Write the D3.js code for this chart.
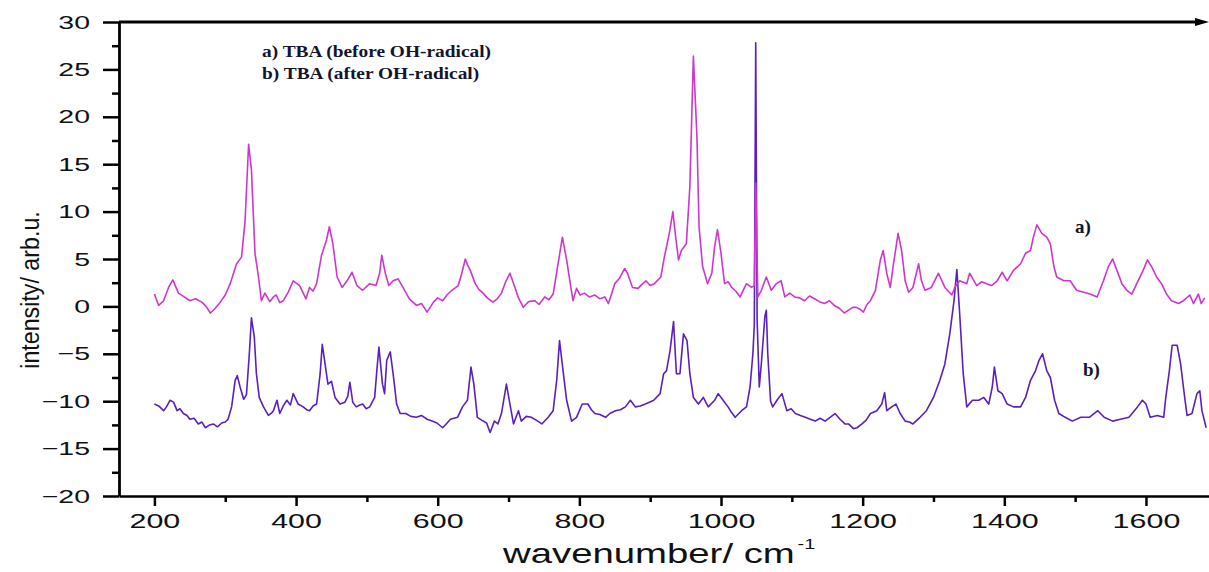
<!DOCTYPE html>
<html>
<head>
<meta charset="utf-8">
<script src="https://cdn.jsdelivr.net/npm/d3@7"></script>
<style>
  body { margin: 0; background: #fff; }
  text { font-family: "Liberation Sans", Arial, sans-serif; }
  text.serif { font-family: "Liberation Serif", "Times New Roman", serif; font-weight: bold; }
</style>
</head>
<body>
<svg id="chart" width="1209" height="572"></svg>
<script>
// spectrum a) TBA before OH-radical : [wavenumber, intensity]
const specA = [
  [200,1.3],[206,0.1],[213,0.6],[220,2.0],[226,2.8],[234,1.4],[242,1.0],[250,0.6],[258,0.8],[267,0.45],
  [273,0.0],[279,-0.7],[286,-0.2],[293,0.45],[300,1.2],[307,2.4],[316,4.5],[323,5.2],[328,9],[333,17.1],
  [337,14.4],[342,5.6],[347,3.1],[351,0.6],[356,1.4],[363,0.5],[368,1.0],[372,1.2],[377,0.4],[382,0.6],
  [389,1.5],[396,2.7],[405,2.2],[414,0.8],[419,2.0],[424,1.6],[429,2.4],[436,5.4],[443,7.0],[447,8.4],
  [452,6.6],[458,3.1],[465,2.0],[472,2.7],[479,3.6],[486,2.2],[494,1.7],[504,2.4],[513,2.2],[518,3.5],
  [521,5.4],[526,3.5],[531,2.2],[537,2.7],[544,2.9],[551,2.0],[560,0.8],[570,0.1],[577,0.3],[585,-0.6],
  [594,0.45],[600,0.9],[607,0.6],[613,1.2],[620,1.7],[629,2.2],[634,3.5],[639,5.0],[642,4.4],[646,3.8],
  [653,2.4],[658,1.8],[664,1.4],[670,0.9],[678,0.45],[684,0.8],[690,1.4],[696,2.6],[702,3.5],[709,2.0],
  [714,0.9],[721,-0.1],[728,0.5],[737,0.6],[743,0.2],[751,1.0],[757,0.7],[763,1.3],[770,4.5],[776,7.3],
  [782,4.9],[788,2.0],[791,0.6],[796,1.9],[801,1.2],[807,1.4],[814,1.0],[822,1.2],[829,0.8],[836,1.0],
  [841,0.3],[845,1.2],[850,2.4],[857,3.0],[864,4.0],[868,3.5],[875,2.0],[883,1.9],[888,2.3],[894,2.7],
  [900,2.2],[906,2.4],[915,3.1],[920,5.2],[927,7.7],[932,10.0],[936,7.3],[940,4.9],[944,5.9],[951,6.6],
  [956,12.6],[961,26.4],[966,17.9],[969,8.4],[974,4.2],[981,2.4],[987,3.5],[991,6.3],[995,8.1],[1000,5.6],
  [1005,2.4],[1010,2.6],[1015,2.0],[1021,1.6],[1027,1.0],[1032,1.8],[1036,2.4],[1043,2.0],[1047,2.2],[1049,13],
  [1052,1.0],[1057,1.7],[1064,3.1],[1071,1.7],[1078,2.4],[1085,2.7],[1090,1.0],[1097,1.4],[1104,1.0],[1111,0.9],
  [1118,0.6],[1125,1.1],[1132,0.8],[1139,0.5],[1146,0.3],[1153,0.6],[1160,0.1],[1167,-0.2],[1174,-0.7],[1180,-0.4],
  [1186,-0.1],[1191,-0.1],[1196,-0.3],[1201,-0.6],[1206,0.2],[1211,0.6],[1218,1.7],[1225,4.9],[1229,5.9],[1234,3.5],
  [1239,2.0],[1243,4.2],[1250,7.7],[1255,5.9],[1260,2.7],[1265,1.5],[1271,2.0],[1279,4.5],[1283,2.7],[1288,1.7],
  [1297,2.0],[1307,3.5],[1316,2.0],[1326,1.2],[1330,2.0],[1337,2.7],[1347,2.4],[1351,3.5],[1361,2.2],[1368,2.6],
  [1375,2.4],[1382,2.2],[1390,2.7],[1397,3.6],[1404,2.7],[1413,3.8],[1423,4.5],[1430,5.6],[1437,5.9],[1441,7.3],
  [1446,8.6],[1453,7.7],[1460,7.3],[1465,6.6],[1470,4.2],[1474,3.1],[1484,2.7],[1493,2.7],[1502,1.7],[1512,1.5],
  [1521,1.3],[1531,1.0],[1540,2.7],[1547,4.2],[1553,5.0],[1559,3.8],[1566,2.4],[1573,1.7],[1580,1.3],[1587,2.4],
  [1596,3.8],[1602,4.9],[1608,4.2],[1615,3.1],[1622,2.4],[1629,1.3],[1636,0.6],[1646,0.3],[1653,0.6],[1662,1.2],
  [1667,0.3],[1674,1.3],[1678,0.3],[1683,0.9]
];

// spectrum b) TBA after OH-radical
const specB = [
  [200,-10.3],[206,-10.5],[213,-11.0],[217,-10.6],[222,-9.9],[227,-10.1],[232,-11.0],[236,-10.8],[241,-11.3],[246,-11.5],
  [250,-11.9],[256,-11.8],[262,-12.4],[267,-12.2],[272,-12.8],[278,-12.5],[283,-12.4],[289,-12.7],[295,-12.3],[300,-12.2],
  [304,-11.9],[309,-10.6],[314,-7.8],[317,-7.3],[321,-8.5],[326,-9.8],[330,-9.3],[334,-5.0],[337,-1.2],[341,-3.2],
  [344,-7.1],[348,-9.6],[354,-10.6],[361,-11.5],[366,-11.2],[368,-11.0],[373,-9.9],[377,-11.3],[382,-10.5],[387,-9.9],
  [392,-10.4],[396,-9.2],[403,-10.3],[410,-10.6],[415,-10.9],[419,-11.0],[424,-10.5],[429,-10.3],[434,-7.1],[437,-4.0],
  [441,-6.1],[445,-8.2],[450,-7.9],[455,-9.6],[462,-10.3],[469,-10.1],[473,-9.5],[476,-8.0],[480,-10.1],[485,-10.6],
  [490,-10.4],[494,-10.3],[499,-10.8],[504,-10.6],[511,-9.6],[514,-6.8],[517,-4.3],[522,-8.2],[525,-9.2],[528,-5.7],
  [533,-4.8],[537,-7.1],[542,-10.3],[547,-11.3],[555,-11.3],[562,-11.6],[570,-11.7],[577,-11.5],[585,-11.9],[592,-12.1],
  [599,-12.3],[607,-12.8],[612,-12.4],[618,-11.9],[628,-11.7],[635,-10.6],[642,-9.9],[647,-6.4],[651,-8.2],[656,-11.7],
  [662,-12.0],[669,-12.3],[674,-13.3],[680,-12.1],[685,-12.4],[690,-11.3],[697,-8.2],[702,-10.3],[707,-12.4],[714,-11.0],
  [718,-12.1],[725,-11.6],[732,-11.7],[739,-12.0],[747,-12.4],[756,-11.7],[763,-11.0],[768,-7.8],[772,-3.6],[777,-6.8],
  [782,-9.9],[789,-12.1],[796,-11.7],[804,-10.3],[812,-10.3],[817,-10.9],[822,-11.3],[829,-11.4],[837,-11.7],[843,-11.3],
  [851,-11.0],[858,-10.9],[865,-10.6],[872,-9.9],[879,-10.6],[886,-10.5],[893,-10.3],[899,-10.1],[905,-9.9],[914,-9.2],
  [919,-7.1],[923,-6.8],[928,-4.7],[933,-1.6],[937,-7.1],[942,-7.1],[947,-2.9],[952,-3.6],[956,-7.1],[961,-9.6],
  [968,-10.3],[975,-9.6],[982,-10.6],[991,-9.9],[996,-9.2],[1003,-9.9],[1010,-10.6],[1015,-11.2],[1020,-11.7],[1029,-11.0],
  [1036,-10.6],[1041,-8.5],[1045,-5.0],[1047,-2.0],[1049,27.8],[1051,-1.5],[1054,-8.5],[1057,-6.0],[1062,-1.0],[1064,-0.4],
  [1066,-5.0],[1070,-10.0],[1073,-10.6],[1079,-9.9],[1086,-9.2],[1093,-11.0],[1099,-10.8],[1105,-11.3],[1112,-11.5],[1119,-11.7],
  [1126,-11.9],[1133,-12.1],[1140,-11.8],[1147,-12.1],[1154,-11.7],[1161,-11.3],[1168,-11.9],[1175,-12.4],[1180,-12.4],[1187,-12.9],
  [1192,-12.8],[1199,-12.4],[1205,-12.0],[1211,-11.3],[1220,-11.0],[1227,-10.3],[1231,-9.1],[1234,-11.0],[1241,-10.6],[1247,-10.3],
  [1253,-11.3],[1260,-12.1],[1266,-12.2],[1271,-12.4],[1281,-11.7],[1290,-11.0],[1300,-9.6],[1309,-7.8],[1316,-6.1],[1323,-2.9],
  [1329,0.6],[1333,3.9],[1337,-0.8],[1342,-7.1],[1347,-10.6],[1355,-9.9],[1364,-9.9],[1371,-9.6],[1378,-10.3],[1383,-8.5],
  [1386,-6.4],[1391,-8.9],[1397,-9.2],[1404,-10.3],[1413,-10.6],[1423,-10.6],[1430,-9.6],[1437,-7.8],[1444,-6.8],[1449,-5.7],
  [1454,-5.0],[1460,-6.8],[1465,-7.5],[1471,-9.9],[1477,-11.3],[1486,-11.7],[1496,-12.1],[1508,-11.7],[1520,-11.7],[1532,-11.0],
  [1541,-11.7],[1553,-12.1],[1564,-11.9],[1576,-11.7],[1588,-10.6],[1595,-9.9],[1600,-10.3],[1606,-11.7],[1616,-11.5],[1625,-11.7],
  [1628,-9.6],[1633,-6.8],[1637,-4.1],[1644,-4.1],[1649,-6.1],[1654,-9.2],[1658,-11.5],[1665,-11.3],[1672,-9.2],[1676,-8.9],
  [1679,-11.0],[1685,-12.8]
];

const xMajor = [200, 400, 600, 800, 1000, 1200, 1400, 1600];
const xMinor = [300, 500, 700, 900, 1100, 1300, 1500];
const yMajor = [-20, -15, -10, -5, 0, 5, 10, 15, 20, 25, 30];
const yMinor = [-17.5, -12.5, -7.5, -2.5, 2.5, 7.5, 12.5, 17.5, 22.5, 27.5];
const legendLines = ["a) TBA (before OH-radical)", "b) TBA (after OH-radical)"];

const svg = d3.select("#chart");
const plotL = 119, plotR = 1209, plotT = 22, plotB = 496;

const x = d3.scaleLinear().domain([150, 1689]).range([plotL, plotR]);
const y = d3.scaleLinear().domain([-20, 30]).range([plotB, plotT]);

// spectra (b under a)
const line = d3.line().x(d => x(d[0])).y(d => y(d[1]));
svg.append("path").datum(specB)
  .attr("fill", "none").attr("stroke", "#5a1fc0").attr("stroke-width", 1.6)
  .attr("stroke-linejoin", "round").attr("d", line);
svg.append("path").datum(specA)
  .attr("fill", "none").attr("stroke", "#d035d0").attr("stroke-width", 1.6)
  .attr("stroke-linejoin", "round").attr("d", line);

// minor ticks
svg.append("g").attr("transform", `translate(0,${plotB})`)
  .call(d3.axisBottom(x).tickValues(xMinor).tickSize(6).tickFormat(""))
  .call(g => g.select(".domain").remove())
  .selectAll("line").attr("stroke", "#000").attr("stroke-width", 2.5);
svg.append("g").attr("transform", `translate(${plotL},0)`)
  .call(d3.axisLeft(y).tickValues(yMinor).tickSize(7).tickFormat(""))
  .call(g => g.select(".domain").remove())
  .selectAll("line").attr("stroke", "#000").attr("stroke-width", 2.5);

// x axis
const gx = svg.append("g").attr("transform", `translate(0,${plotB})`)
  .call(d3.axisBottom(x).tickValues(xMajor).tickFormat(d3.format("d"))
    .tickSize(10).tickPadding(7).tickSizeOuter(0));
gx.select(".domain").attr("stroke-width", 2.5);
gx.selectAll("line").attr("stroke-width", 2.5);
gx.selectAll("text")
  .attr("font-size", 21).attr("fill", "#111")
  .attr("transform", "scale(1.45,1)");

// y axis
const gy = svg.append("g").attr("transform", `translate(${plotL},0)`)
  .call(d3.axisLeft(y).tickValues(yMajor).tickSize(16).tickPadding(13).tickSizeOuter(0));
gy.select(".domain").attr("stroke-width", 2.8);
gy.selectAll("line").attr("stroke-width", 2.5);
gy.selectAll("text")
  .attr("font-size", 19).attr("fill", "#111")
  .attr("x", 0)
  .attr("transform", "translate(-29,0) scale(1.5,1)");

// top frame line with arrow
svg.append("line")
  .attr("x1", plotL).attr("x2", plotR - 10).attr("y1", plotT).attr("y2", plotT)
  .attr("stroke", "#000").attr("stroke-width", 2.8);
svg.append("path")
  .attr("d", `M${plotR - 14},${plotT - 4}L${plotR},${plotT}L${plotR - 14},${plotT + 4}Z`)
  .attr("fill", "#000");

// axis titles
const xt = svg.append("text")
  .attr("transform", "translate(503,563) scale(1.42,1)")
  .attr("font-size", 27).attr("fill", "#111");
xt.append("tspan").text("wavenumber/ cm");
xt.append("tspan").attr("font-size", 14).attr("dy", -14).attr("dx", 2).text("-1");

svg.append("text")
  .attr("transform", "translate(39,290) rotate(-90) scale(0.93,1)")
  .attr("text-anchor", "middle")
  .attr("font-size", 25).attr("fill", "#111")
  .text("intensity/ arb.u.");

// legend text
svg.append("g").selectAll("text").data(legendLines).join("text")
  .attr("class", "serif")
  .attr("transform", (d, i) => `translate(262,${57 + i * 22}) scale(1.14,1)`)
  .attr("font-size", 17).attr("fill", "#14142e")
  .text(d => d);

// curve labels
svg.append("text").attr("class", "serif").attr("x", 1075).attr("y", 233)
  .attr("font-size", 19).attr("fill", "#14142e")
  .text("a)");
svg.append("text").attr("class", "serif").attr("x", 1083).attr("y", 376)
  .attr("font-size", 19).attr("fill", "#14142e")
  .text("b)");
</script>
</body>
</html>
